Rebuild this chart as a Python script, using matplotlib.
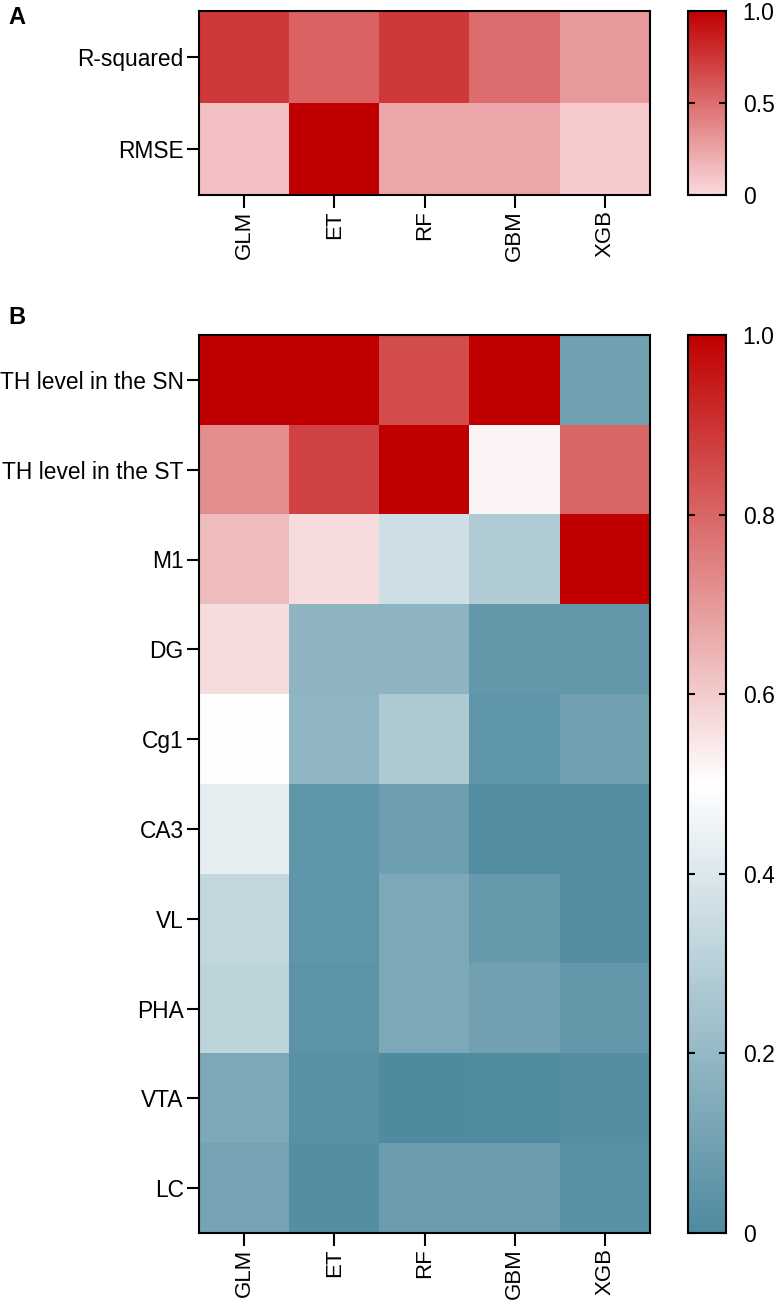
import numpy as np
import matplotlib
matplotlib.use('Agg')
import matplotlib.pyplot as plt
from matplotlib.colors import LinearSegmentedColormap

plt.rcParams['font.family'] = ['Liberation Sans', 'DejaVu Sans']
plt.rcParams['font.size'] = 16

models = ['GLM', 'ET', 'RF', 'GBM', 'XGB']

# panel A: model performance (scaled 0-1)
metrics = ['R-squared', 'RMSE']
rsquared = [0.74, 0.55, 0.74, 0.50, 0.30]
rmse = [0.12, 1.00, 0.24, 0.24, 0.07]

# panel B: feature importance (scaled 0-1)
features = ['TH level in the SN', 'TH level in the ST', 'M1', 'DG', 'Cg1',
            'CA3', 'VL', 'PHA', 'VTA', 'LC']
imp_glm = [1.00, 0.72, 0.63, 0.57, 0.50, 0.43, 0.33, 0.32, 0.13, 0.11]
imp_et = [1.00, 0.87, 0.57, 0.18, 0.19, 0.05, 0.05, 0.04, 0.03, 0.02]
imp_rf = [0.85, 1.00, 0.36, 0.18, 0.27, 0.09, 0.13, 0.13, 0.00, 0.08]
imp_gbm = [1.00, 0.52, 0.28, 0.06, 0.05, 0.02, 0.07, 0.10, 0.01, 0.08]
imp_xgb = [0.10, 0.80, 1.00, 0.06, 0.10, 0.02, 0.02, 0.06, 0.02, 0.03]

cmapA = LinearSegmentedColormap.from_list('reds', ['#fadadd', '#c00000'])
cmapB = LinearSegmentedColormap.from_list(
    'div', [(0.0, '#4f8a9f'), (0.5, '#ffffff'), (1.0, '#c00000')])

fig = plt.figure(figsize=(7.75, 13), dpi=100)

W, H = 775.0, 1300.0


def box(x0, y0, x1, y1):
    return [x0 / W, 1 - y1 / H, (x1 - x0) / W, (y1 - y0) / H]


def draw(ax, cax, data, rows, cmap, ticks, ticklabels):
    im = ax.imshow(data, aspect='auto', cmap=cmap, vmin=0, vmax=1,
                   interpolation='nearest')
    ax.set_xticks(range(len(models)))
    ax.set_xticklabels(models, rotation=90)
    ax.set_yticks(range(len(rows)))
    ax.set_yticklabels(rows, fontsize=16.4)
    ax.tick_params(length=9, width=1.5, pad=2)
    for s in ax.spines.values():
        s.set_linewidth(1.5)
    cb = fig.colorbar(im, cax=cax, ticks=ticks)
    cb.ax.set_yticklabels(ticklabels, fontsize=16.5)
    cb.ax.tick_params(direction='in', left=True, right=True, length=5,
                      width=1.5, pad=12)
    cb.outline.set_linewidth(1.5)


axA = fig.add_axes(box(199, 11, 650, 195))
caxA = fig.add_axes(box(688, 11, 726, 195))
dataA = np.array([rsquared, rmse])
draw(axA, caxA, dataA, metrics, cmapA, [0, 0.5, 1.0], ['0', '0.5', '1.0'])

axB = fig.add_axes(box(199, 335, 650, 1233))
caxB = fig.add_axes(box(688, 335, 726, 1233))
dataB = np.array([imp_glm, imp_et, imp_rf, imp_gbm, imp_xgb]).T
draw(axB, caxB, dataB, features, cmapB, [0, 0.2, 0.4, 0.6, 0.8, 1.0],
     ['0', '0.2', '0.4', '0.6', '0.8', '1.0'])

fig.text(8 / W, 1 - 18 / H, 'A', fontsize=17, fontweight='bold', va='center')
fig.text(8 / W, 1 - 317 / H, 'B', fontsize=17, fontweight='bold', va='center')

fig.savefig('out.png', dpi=100)
